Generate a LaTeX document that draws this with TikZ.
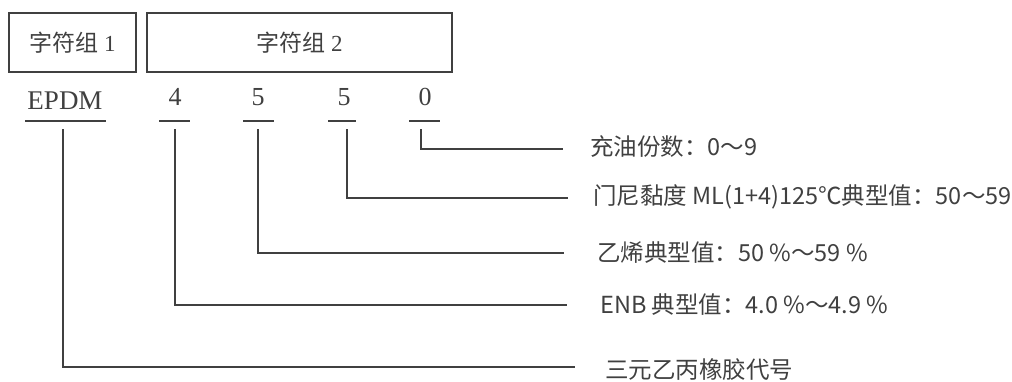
\documentclass[tikz,border=0pt]{standalone}
\usepackage{fontspec}
\setmainfont{Liberation Serif}
\newfontfamily\cjk{Noto Sans CJK SC}
\definecolor{ink}{HTML}{404040}
\begin{document}
\begin{tikzpicture}[x=1pt,y=-1pt,
  grpbox/.style={draw=ink,line width=1.6pt,inner sep=0pt,text=ink,font=\fontsize{23}{26}\selectfont},
  code/.style={inner sep=0pt,text=ink,font=\fontsize{26}{29}\selectfont,anchor=base},
  uline/.style={draw=ink,line width=2.4pt},
  thinline/.style={draw=ink,line width=1.5pt},
  lbl/.style={anchor=west,inner sep=0pt,text=ink,font=\cjk\fontsize{23.5}{26}\selectfont}]
\useasboundingbox (0,0) rectangle (1012,381);
% group boxes
\node[grpbox,minimum width=127pt,minimum height=59pt] (g1) at (72.5,42.5) {{\cjk 字符组} 1};
\node[grpbox,minimum width=305pt,minimum height=59pt] (g2) at (299.5,42.5) {{\cjk 字符组} 2};
% code characters
\node[code,font=\fontsize{27}{30}\selectfont] (cE) at (65,109) {EPDM};
\node[code] (c4) at (175,105) {4};
\node[code] (c5a) at (258,105) {5};
\node[code] (c5b) at (344,105) {5};
\node[code] (c0) at (425,105) {0};
% underlines
\draw[thinline,line width=1.8pt] (25,121) coordinate (uEa) -- (106,121) coordinate (uEb);
\draw[uline] (159,121) coordinate (u4a) -- (190,121) coordinate (u4b);
\draw[uline] (243,121) coordinate (u5aa) -- (274,121) coordinate (u5ab);
\draw[uline] (328,121) coordinate (u5ba) -- (356,121) coordinate (u5bb);
\draw[uline] (409,121) coordinate (u0a) -- (440,121) coordinate (u0b);
% start points of leaders
\coordinate (sE) at (63,129);
\coordinate (s4) at (175,129);
\coordinate (s5a) at (258,129);
\coordinate (s5b) at (347,129);
\coordinate (s0) at (421,129);
% end points of leaders
\coordinate (e0) at (563,149);
\coordinate (e5b) at (568,198);
\coordinate (e5a) at (564,253);
\coordinate (e4) at (567,305);
\coordinate (eE) at (575,367);
% labels
\node[lbl] (l0) at (590,147) {充油份数：0～9};
\node[lbl] (l5b) at (593,197) {门尼黏度 ML(1+4)125℃典型值：50～59};
\node[lbl] (l5a) at (597,253) {乙烯典型值：50 \%～59 \%};
\node[lbl] (l4) at (600,305) {ENB 典型值：4.0 \%～4.9 \%};
\node[lbl] (lE) at (605,370) {三元乙丙橡胶代号};
% leaders
\draw[thinline] (s0) |- (e0);
\draw[thinline] (s5b) |- (e5b);
\draw[thinline] (s5a) |- (e5a);
\draw[thinline] (s4) |- (e4);
\draw[thinline] (sE) |- (eE);
\end{tikzpicture}
\end{document}
